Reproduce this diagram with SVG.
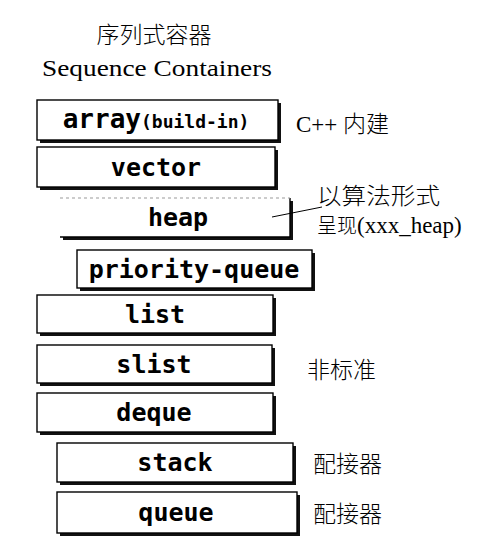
<svg xmlns="http://www.w3.org/2000/svg" width="486" height="556" viewBox="0 0 486 556">
<style>
.bg{fill:#fff}
.sh{fill:#111}
.bx{fill:#fff;stroke:#000;stroke-width:1.4}
.lb{font-family:"DejaVu Sans Mono","Liberation Mono",monospace;font-size:25px;font-weight:bold;text-anchor:middle;fill:#000}
.sm{font-size:18px}
.nt{font-family:"Liberation Serif","Noto Sans CJK SC",serif;font-size:23px;fill:#000}
.cn{font-family:"Noto Sans CJK SC",sans-serif;font-weight:300}
</style>
<rect class="bg" width="486" height="556"/>
<g id="title">
<text class="nt cn" x="154" y="43" text-anchor="middle" font-size="21">序列式容器</text>
<text class="nt" x="42" y="76" font-size="26" textLength="230" lengthAdjust="spacingAndGlyphs">Sequence Containers</text>
</g>
<g id="array">
<rect class="sh" x="40" y="103" width="241" height="40"/>
<rect class="bx" x="37" y="100" width="241" height="40"/>
<text class="lb" x="156" y="128"><tspan font-size="26">array</tspan><tspan class="sm">(build-in)</tspan></text>
</g>
<g id="vector">
<rect class="sh" x="40" y="150" width="238" height="40"/>
<rect class="bx" x="37" y="147" width="238" height="40"/>
<text class="lb" x="156" y="176">vector</text>
</g>
<g id="heap">
<rect class="sh" x="63" y="201" width="230" height="39"/>
<rect x="60" y="198" width="230" height="39" fill="#fff"/>
<path d="M60 237H290V198" fill="none" stroke="#000" stroke-width="1.4"/>
<path d="M60 198H290" fill="none" stroke="#999" stroke-width="1" stroke-dasharray="3 3"/>
<text class="lb" x="178" y="226">heap</text>
</g>
<g id="priority-queue">
<rect class="sh" x="80" y="253" width="235" height="38"/>
<rect class="bx" x="77" y="250" width="235" height="38"/>
<text class="lb" x="194" y="278">priority-queue</text>
</g>
<g id="list">
<rect class="sh" x="40" y="298" width="236" height="38"/>
<rect class="bx" x="37" y="295" width="236" height="38"/>
<text class="lb" x="155" y="323">list</text>
</g>
<g id="slist">
<rect class="sh" x="40" y="348" width="235" height="38"/>
<rect class="bx" x="37" y="345" width="235" height="38"/>
<text class="lb" x="154" y="373">slist</text>
</g>
<g id="deque">
<rect class="sh" x="40" y="396" width="236" height="39"/>
<rect class="bx" x="37" y="393" width="236" height="39"/>
<text class="lb" x="154" y="421">deque</text>
</g>
<g id="stack">
<rect class="sh" x="60" y="446" width="236" height="39"/>
<rect class="bx" x="57" y="443" width="236" height="39"/>
<text class="lb" x="175" y="471">stack</text>
</g>
<g id="queue">
<rect class="sh" x="60" y="495" width="240" height="41"/>
<rect class="bx" x="57" y="492" width="240" height="41"/>
<text class="lb" x="176" y="521">queue</text>
</g>
<g id="connectors">
<path d="M272 217L322 207" fill="none" stroke="#000" stroke-width="1"/>
</g>
<g id="notes">
<text class="nt" x="296" y="132">C++ <tspan class="cn">内建</tspan></text>
<text class="nt cn" x="317" y="204" font-size="20" textLength="123" lengthAdjust="spacingAndGlyphs">以算法形式</text>
<text class="nt" x="317" y="233" font-size="21"><tspan class="cn" font-size="20">呈现</tspan>(xxx_heap)</text>
<text class="nt cn" x="307" y="378">非标准</text>
<text class="nt cn" x="313" y="472">配接器</text>
<text class="nt cn" x="313" y="522">配接器</text>
</g>
</svg>
